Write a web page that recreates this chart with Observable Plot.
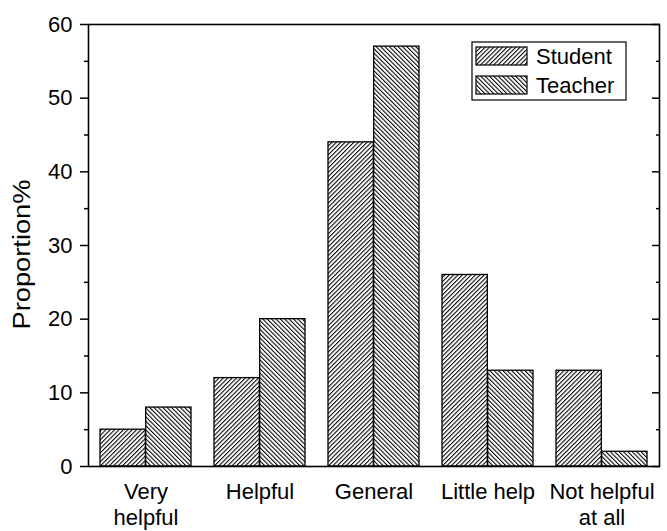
<!DOCTYPE html>
<html>
<head>
<meta charset="utf-8">
<script src="https://cdn.jsdelivr.net/npm/d3@7"></script>
<script src="https://cdn.jsdelivr.net/npm/@observablehq/plot@0.6"></script>
<style>
  html, body { margin: 0; padding: 0; background: #fff; }
  #wrap { position: relative; width: 667px; height: 531px; font-family: "Liberation Sans", Arial, sans-serif; }
  #legend { position: absolute; left: 0; top: 0; }
</style>
</head>
<body>
<div id="wrap"></div>
<script>
// ---- data ----
const categories = ["Very\nhelpful", "Helpful", "General", "Little help", "Not helpful\nat all"];
const seriesNames = ["Student", "Teacher"];
const studentValues = [5, 12, 44, 26, 13];
const teacherValues = [8, 20, 57, 13, 2];
const yTicks = [0, 10, 20, 30, 40, 50, 60];
const yMinorTicks = [5, 15, 25, 35, 45, 55];
const yLabel = "Proportion%";

const rowsStudent = categories.map((c, i) => ({cat: c, series: seriesNames[0], value: studentValues[i]}));
const rowsTeacher = categories.map((c, i) => ({cat: c, series: seriesNames[1], value: teacherValues[i]}));

// ---- layout ----
const W = 667, H = 531;
const mL = 88, mR = 8, mT = 24, mB = 65;
const padIn = 0.2, padOut = 0.1;
const step = (W - mL - mR) / (categories.length - padIn + 2 * padOut);
const halfBand = step * (1 - padIn) / 2;
const font = "Liberation Sans, Arial, sans-serif";
const blank = () => "";

const plot = Plot.plot({
  width: W, height: H,
  marginLeft: mL, marginRight: mR, marginTop: mT, marginBottom: mB,
  style: {fontFamily: font, fontSize: "22px", color: "black", background: "white"},
  x: {domain: categories, paddingInner: padIn, paddingOuter: padOut},
  y: {domain: [0, 60]},
  marks: [
    Plot.barY(rowsStudent, {x: "cat", y: "value", fill: "url(#patStudent)", stroke: "black", strokeWidth: 1.3, insetRight: halfBand}),
    Plot.barY(rowsTeacher, {x: "cat", y: "value", fill: "url(#patTeacher)", stroke: "black", strokeWidth: 1.3, insetLeft: halfBand}),
    Plot.axisX({tickSize: 0, tickPadding: 14, fontSize: 22, lineHeight: 1.18, label: null}),
    Plot.axisY({ticks: yTicks, tickSize: 8, tickPadding: 8, strokeWidth: 1.5, fontSize: 22, label: null}),
    Plot.axisY({ticks: yMinorTicks, tickSize: 4, strokeWidth: 1.5, tickFormat: blank, label: null}),
    Plot.axisY({anchor: "right", ticks: yTicks, tickSize: -8, strokeWidth: 1.5, tickFormat: blank, label: null}),
    Plot.axisY({anchor: "right", ticks: yMinorTicks, tickSize: -4, strokeWidth: 1.5, tickFormat: blank, label: null}),
    Plot.text([yLabel], {text: d => d, frameAnchor: "left", textAnchor: "middle", lineAnchor: "middle", rotate: -90, dx: -66, dy: 9, fontSize: 23, fill: "black"}),
    Plot.frame({stroke: "black", strokeWidth: 1.6})
  ]
});

// patterns
const svg = d3.select(plot);
const defs = svg.insert("defs", ":first-child");
function addPattern(sel, id, angle) {
  const p = sel.append("pattern").attr("id", id).attr("patternUnits", "userSpaceOnUse")
    .attr("width", 3.1).attr("height", 3.1).attr("patternTransform", `rotate(${angle})`);
  p.append("rect").attr("width", 3.1).attr("height", 3.1).attr("fill", "white");
  p.append("line").attr("x1", 0.5).attr("y1", 0).attr("x2", 0.5).attr("y2", 3.1)
    .attr("stroke", "black").attr("stroke-width", 1.1);
}
addPattern(defs, "patStudent", 45);
addPattern(defs, "patTeacher", -45);
svg.selectAll("text").filter(function() { return this.textContent === yLabel; })
  .attr("textLength", 150).attr("lengthAdjust", "spacingAndGlyphs");

document.getElementById("wrap").appendChild(plot);

// legend (inside plot area, top right)
const leg = d3.select("#wrap").append("svg").attr("id", "legend").attr("width", W).attr("height", H);
const ldefs = leg.append("defs");
addPattern(ldefs, "lpatStudent", 45);
addPattern(ldefs, "lpatTeacher", -45);
const lg = leg.append("g").attr("transform", "translate(472,42)");
lg.append("rect").attr("width", 154).attr("height", 58).attr("fill", "white").attr("stroke", "black").attr("stroke-width", 1.2);
seriesNames.forEach((name, i) => {
  const y = 5 + i * 29;
  lg.append("rect").attr("x", 4).attr("y", y).attr("width", 51).attr("height", 18)
    .attr("fill", i === 0 ? "url(#lpatStudent)" : "url(#lpatTeacher)").attr("stroke", "black").attr("stroke-width", 1.2);
  lg.append("text").attr("x", 64).attr("y", y + 17).attr("font-family", font).attr("font-size", 22).attr("fill", "black").text(name);
});
</script>
</body>
</html>
